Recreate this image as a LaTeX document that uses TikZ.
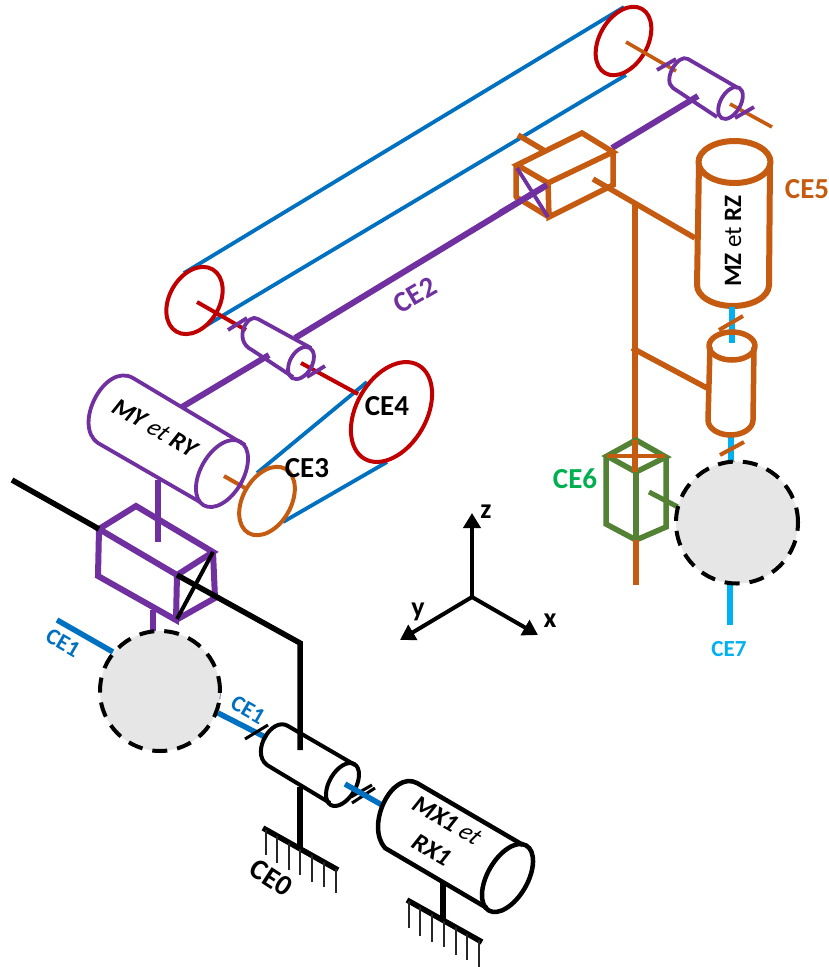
\documentclass[tikz,border=0pt]{standalone}
\usepackage{fontspec}
\setmainfont{Carlito}
\usetikzlibrary{arrows.meta}
\definecolor{cblue}{HTML}{0070C0}
\definecolor{cpurple}{HTML}{7030A0}
\definecolor{corange}{HTML}{C55A11}
\definecolor{cred}{HTML}{C00000}
\definecolor{cgreen}{HTML}{548235}
\definecolor{clabgreen}{HTML}{00B050}
\definecolor{ccyan}{HTML}{00B0F0}
\definecolor{cgray}{HTML}{E6E6E6}
\tikzset{
 blueline/.style={cblue,line width=3.8pt},
 pur/.style={cpurple,line width=3.8pt},
 purthick/.style={cpurple,line width=6pt},
 org/.style={corange,line width=5.5pt},
 orgthin/.style={corange,line width=3.6pt},
 redl/.style={cred,line width=4pt},
 blk/.style={black,line width=5.5pt},
 blkm/.style={black,line width=4pt},
 hatch/.style={black!85,line width=1.3pt},
 grn/.style={cgreen,line width=5.5pt},
 cyanl/.style={ccyan,line width=6.5pt},
 dashcircle/.style={fill=cgray,draw=black,line width=4pt,dash pattern=on 15pt off 10pt},
 lab/.style={font=\fontsize{29}{29}\selectfont\bfseries,inner sep=0pt},
 smalllab/.style={font=\fontsize{23}{23}\selectfont\bfseries,inner sep=0pt},
 axlab/.style={font=\fontsize{28}{28}\selectfont\bfseries,inner sep=0pt},
 mot/.style={font=\fontsize{25}{25}\selectfont,inner sep=0pt,align=center},
 axisl/.style={line width=4pt,-{Stealth[length=15pt,width=17pt,inset=0pt]}},
}
\newcommand{\ellip}[5]{\draw[#1] (#2) circle[x radius=#3pt,y radius=#4pt,rotate=#5];}
\begin{document}
\begin{tikzpicture}[x=1pt,y=-1pt,line join=round]
\useasboundingbox (0,0) rectangle (829,967);
% belts
\draw[blueline] (184,273) -- (624,7);
\draw[blueline] (207,325) -- (626,75);
\draw[blueline] (257,473) -- (367,382);
\draw[blueline] (283,522) -- (387,462);
% CE2 shaft
\draw[purthick] (295,338) -- (547,185);
\draw[purthick] (612,148) -- (698,96);
\draw[purthick] (182,407) -- (269,355);
% pulleys
\ellip{redl}{623.5,41}{37}{24}{60}
\ellip{redl}{194.5,300.5}{36}{25}{60}
\ellip{redl}{391.5,412}{54}{35}{60}
\ellip{corange,line width=4pt}{267,501}{37}{24}{60}
% pulley shafts
\draw[orgthin] (626,42) -- (676,71);
\draw[orgthin] (730,104) -- (772,127);
\draw[redl] (197,302) -- (246,330);
\draw[redl] (301,363) -- (358,394);
\draw[orgthin,line width=4pt] (224,476) -- (245,488);
% top small cylinder
\draw[pur] (717,117) -- (673,88) .. controls (662,80) and (678,53) .. (688,59) -- (738,88);
\ellip{pur}{730.5,103}{17.5}{10}{60}
\draw[pur] (657,70) -- (676,59);
\draw[pur] (735,118) -- (754,107);
% middle small cylinder
\draw[pur] (293,377) -- (252,350) .. controls (232,340) and (248,312) .. (258,319) -- (311,348);
\ellip{pur}{301,363}{17.5}{11}{60}
\draw[pur] (228,330) -- (247,318);
\draw[pur] (307,377) -- (325,366);
% MY motor
\draw[pur] (200,502) -- (98,443) .. controls (72,425) and (105,362) .. (133,378) -- (245,445);
\ellip{pur}{222,473.5}{36.7}{21.3}{60}
\draw[purthick,line width=5.5pt] (158,480) -- (158,542);
\node[mot,rotate=-30,xslant=.15] (my) at (155,428) {\textbf{MY} \itshape et \textbf{\upshape RY}};
% purple prismatic box
\draw[purthick,line width=6pt,line join=miter] (177,575) -- (99,529) -- (136,506) -- (213,552) -- (177,575) -- (176,620) -- (98,576) -- (99,529);
\draw[purthick,line width=6pt,line join=miter] (176,620) -- (215,598) -- (213,552);
\draw[purthick,line width=5.5pt] (153,610) -- (153,633);
% black shaft
\draw[blk] (12,480) -- (99,529);
\draw[blk,line join=miter] (177,575) -- (300,643) -- (300,750);
\draw[blkm] (213,552) -- (177,619);
% CE1 blue
\draw[blueline,line width=5.5pt] (57,620) -- (113,652);
\draw[blueline,line width=5.5pt] (218,713) -- (267,738);
% joint circle left
\draw[cpurple,line width=1.5pt] (160,691) ++(-8:60pt) arc[start angle=-8,end angle=8,radius=60pt];
\draw[dashcircle] (160,691) circle[radius=60pt];
% black cylinder
\draw[blkm] (330,803) -- (267,765) .. controls (250,752) and (272,716) .. (288,726) -- (355,765);
\ellip{blkm}{342.5,784.5}{23.6}{13.3}{60}
\draw[blkm,line width=3pt] (245,739) -- (268,725);
\draw[blkm,line width=3pt] (352,803) -- (375,788);
\draw[blkm,line width=3pt] (351,797) -- (372,785);
\draw[blueline,line width=5.5pt] (345,784) -- (382,805);
% post and ground 1
\draw[blk] (300,787) -- (300,847);
\draw[blk] (263,828) -- (338,870);
\foreach \x/\yt/\yb in {266/830/855,277/836/863,289/843/870,300/849/875,312/855/882,324/862/887,336/869/893}
  \draw[hatch] (\x,\yt) -- (\x,\yb);
% MX1 motor
\draw[blkm,line width=4.5pt] (487,908) -- (385,848) .. controls (365,825) and (392,770) .. (417,783) -- (523,845);
\ellip{blkm,line width=4.5pt}{507.5,878}{37.5}{20}{60}
\draw[blk] (443,883) -- (443,920);
\draw[blk] (407,900) -- (482,942);
\foreach \x/\yt/\yb in {409/901/928,420/907/936,432/914/942,444/921/947,456/927/955,467/934/960,479/940/967}
  \draw[hatch] (\x,\yt) -- (\x,\yb);
\node[mot,rotate=-30,xslant=.15] (mx) at (447,821) {\textbf{MX1} \itshape et};
\node[mot,rotate=-30,xslant=.15] (rx) at (432,850) {\textbf{RX1}};
% orange carriage box
\draw[org] (518,135) -- (545,151);
\draw[org,line join=miter] (548,183) -- (517,165) -- (582,133) -- (613,152) -- (548,183) -- (549,217) -- (613,185) -- (613,152);
\draw[org] (516,165) -- (516,197) -- (549,217);
\draw[pur] (517,168) -- (548,217);
\draw[purthick] (500,213) -- (547,185);
\draw[org] (593,179) -- (695,238);
\draw[org] (635,203) -- (635,472);
% MZ motor
\draw[org,line width=6pt] (699,163) -- (697,285) arc[start angle=180,end angle=360,x radius=36pt,y radius=21pt] -- (770,163);
\draw[org,line width=6pt] (734.5,162) circle[x radius=36pt,y radius=21pt];
\node[mot,rotate=90] (mz) at (733,241) {\textbf{MZ} et \textbf{RZ}};
\node[lab,text=corange] (ce5) at (807,189) {CE5};
% cyan shaft
\draw[cyanl] (732,307) -- (732,343);
\draw[cyanl] (731,437) -- (731,462);
\draw[cyanl] (730,583) -- (730,625);
% small motor
\draw[org] (632,348) -- (707,388);
\draw[org] (710,347) -- (708,420) arc[start angle=180,end angle=360,x radius=22.5pt,y radius=15pt] -- (754,347);
\draw[org] (732,346) circle[x radius=23pt,y radius=14pt];
\draw[orgthin,line width=4pt] (719,330) -- (743,316);
\draw[orgthin,line width=4pt] (720,455) -- (744,442);
% green box
\draw[grn,line join=miter] (607,456) -- (636,440) -- (666,457) -- (636,472) -- cycle;
\draw[grn,line join=miter] (606,457) -- (606,524) -- (636,540) -- (666,527) -- (666,457);
\draw[grn] (636,472) -- (636,540);
\draw[orgthin] (607,456) -- (665,456);
\draw[org] (635,440) -- (635,472);
\draw[org] (636,540) -- (636,585);
\draw[grn,line width=5pt] (649,492) -- (678,507);
% joint circle right
\draw[cgreen,line width=1.5pt] (737,522.5) ++(92:61pt) arc[start angle=92,end angle=105,radius=61pt];
\draw[dashcircle] (737,522.5) circle[radius=61pt];
% axes
\coordinate (o) at (472,597);
\coordinate (zt) at (472,513);
\coordinate (yt) at (400,640);
\coordinate (xt) at (538,635);
\draw[axisl] (o) -- (zt);
\draw[axisl] (o) -- (yt);
\draw[axisl] (o) -- (xt);
\node[axlab] (zl) at (486,512) {z};
\node[axlab] (yl) at (418,612) {y};
\node[axlab] (xl) at (550,621) {x};
% labels
\node[lab] (ce4) at (387,406) {CE4};
\node[lab] (ce3) at (307,468) {CE3};
\node[lab,text=clabgreen] (ce6) at (575,479) {CE6};
\node[lab,text=cpurple,rotate=30] (ce2) at (415,295) {CE2};
\node[lab,rotate=-33] (ce0) at (271,878) {CE0};
\node[smalllab,text=ccyan] (ce7) at (729,649) {CE7};
\node[smalllab,text=cblue,rotate=-30] (ce1a) at (63,643) {CE1};
\node[smalllab,text=cblue,rotate=-30] (ce1b) at (248,710) {CE1};
\end{tikzpicture}
\end{document}
